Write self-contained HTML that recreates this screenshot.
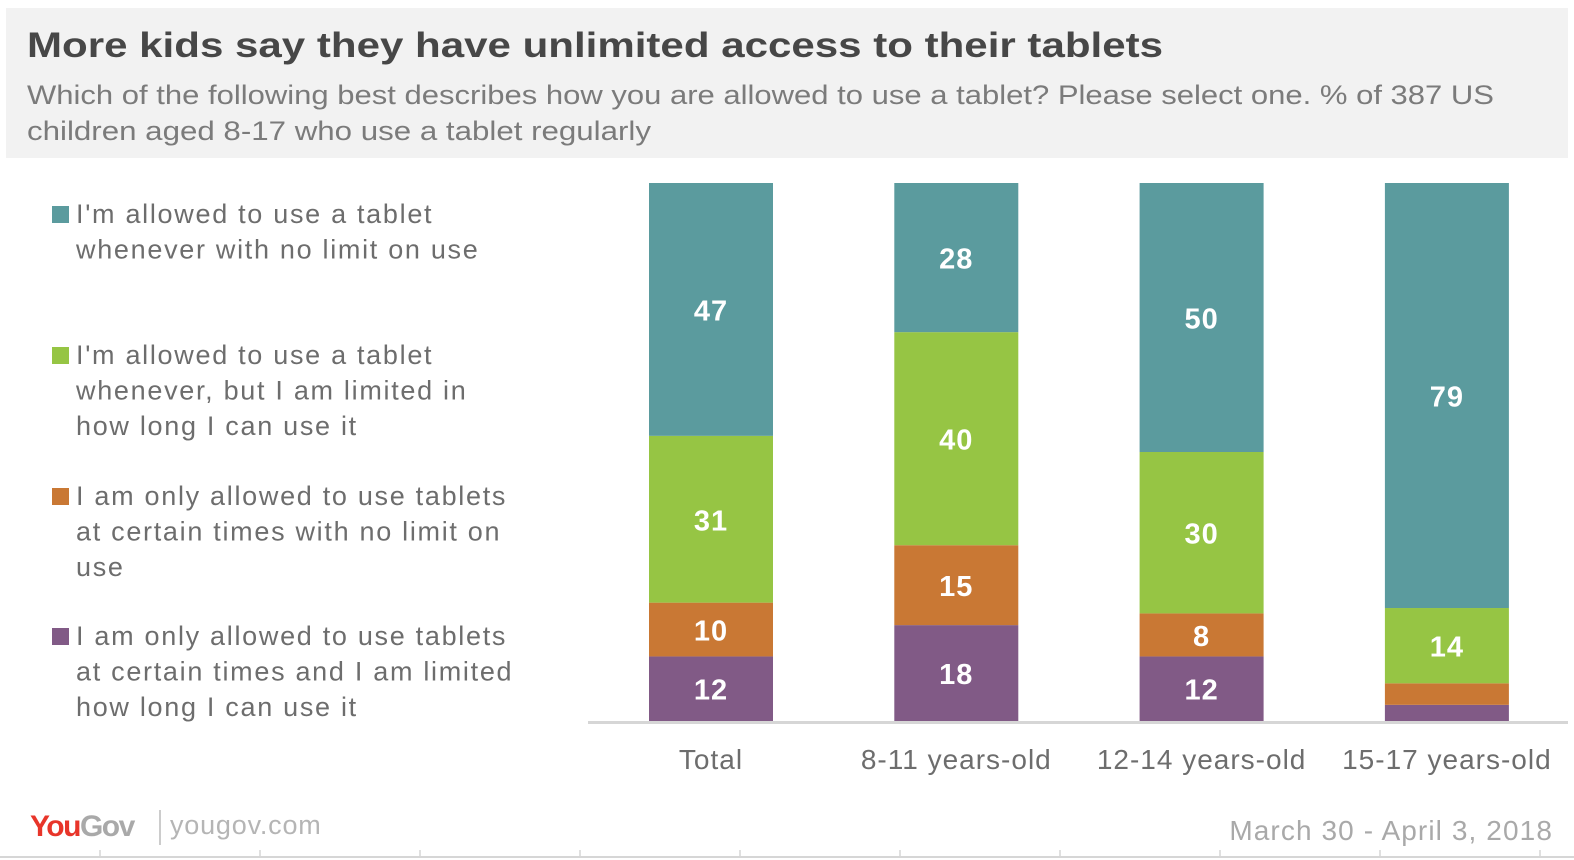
<!DOCTYPE html>
<html><head><meta charset="utf-8"><style>
html,body{margin:0;padding:0;background:#fff;}
svg{display:block;font-family:"Liberation Sans",sans-serif;}
</style></head><body>
<svg id="chart" width="1574" height="860" viewBox="0 0 1574 860" xmlns="http://www.w3.org/2000/svg">
<rect x="6" y="8" width="1562" height="150" fill="#f2f2f2"/>
<text x="27" y="57" font-size="35" font-weight="bold" fill="#474747" textLength="1136" lengthAdjust="spacingAndGlyphs">More kids say they have unlimited access to their tablets</text>
<text x="27" y="104" font-size="27" fill="#7b7b7b" textLength="1467" lengthAdjust="spacingAndGlyphs">Which of the following best describes how you are allowed to use a tablet? Please select one. % of 387 US</text>
<text x="27" y="140" font-size="27" fill="#7b7b7b" textLength="624" lengthAdjust="spacingAndGlyphs">children aged 8-17 who use a tablet regularly</text>
<g id="legend"></g>
<g id="bars"></g>
<line x1="588" y1="722.5" x2="1568" y2="722.5" stroke="#d6d6d6" stroke-width="3"/>
<g id="xlabels"></g>
<text x="30" y="836" font-size="30" font-weight="bold" letter-spacing="-1.5"><tspan fill="#e8352a">You</tspan><tspan fill="#a9a9a9">Gov</tspan></text>
<line x1="160" y1="810" x2="160" y2="845" stroke="#bbb" stroke-width="1.5"/>
<text x="170" y="834" font-size="27" fill="#b5b5b5" letter-spacing="0.8">yougov.com</text>
<text x="1553" y="840" font-size="28" fill="#a9a9a9" text-anchor="end" letter-spacing="1.1">March 30 - April 3, 2018</text>
<line x1="0" y1="857" x2="1574" y2="857" stroke="#d6d6d6" stroke-width="2"/>
<g id="bticks"></g>
</svg>
<script>
const categories = ["Total", "8-11 years-old", "12-14 years-old", "15-17 years-old"];
const seriesNames = ["I'm allowed to use a tablet whenever with no limit on use","I'm allowed to use a tablet whenever, but I am limited in how long I can use it","I am only allowed to use tablets at certain times with no limit on use","I am only allowed to use tablets at certain times and I am limited how long I can use it"];
const unlimited = [47, 28, 50, 79];
const limitedDuration = [31, 40, 30, 14];
const certainTimesNoLimit = [10, 15, 8, 4];
const certainTimesLimited = [12, 18, 12, 3];
const colors = ["#5b9b9e", "#96c544", "#c97834", "#815a86"];
const legendLines = [["I'm allowed to use a tablet","whenever with no limit on use"],["I'm allowed to use a tablet","whenever, but I am limited in","how long I can use it"],["I am only allowed to use tablets","at certain times with no limit on","use"],["I am only allowed to use tablets","at certain times and I am limited","how long I can use it"]];
const NS = "http://www.w3.org/2000/svg";
const top0 = 183, base = 721, barW = 124;
const xCenter = i => 711 + i * 245.3;
function mk(tag, attrs, parent){const e=document.createElementNS(NS,tag);for(const k in attrs)e.setAttribute(k,attrs[k]);parent.appendChild(e);return e;}
const bars = document.getElementById('bars');
const stack = [certainTimesLimited, certainTimesNoLimit, limitedDuration, unlimited];
const stackColors = [colors[3], colors[2], colors[1], colors[0]];
const stackNames = ["certain-times-limited","certain-times-no-limit","limited-duration","unlimited"];
categories.forEach((c, i) => {
  const total = stack.reduce((a, s) => a + s[i], 0);
  const yScale = v => (base - top0) * v / total;
  let y = base;
  stack.forEach((s, j) => {
    const h = yScale(s[i]);
    y -= h;
    const r = mk('rect', {x: xCenter(i) - barW/2, y: y, width: barW, height: h, fill: stackColors[j]}, bars);
    
    
    if (s[i] >= 6) {
      const t = mk('text', {x: xCenter(i), y: y + h/2 + 11, 'font-size': 29, 'font-weight': 'bold', fill: '#fff', 'text-anchor': 'middle', 'letter-spacing': 1}, bars);
      
      
      t.textContent = s[i];
    }
  });
  const xl = mk('text', {x: xCenter(i), y: 769, 'font-size': 28, fill: '#6d6d6d', 'text-anchor': 'middle', 'letter-spacing': 1}, document.getElementById('xlabels'));
  
  
  xl.textContent = c;
});
const legend = document.getElementById('legend');
const legendTop = [223, 364, 505, 645];
legendLines.forEach((lines, i) => {
  const g = mk('g', {}, legend);
  
  
  mk('rect', {x: 52, y: legendTop[i] - 17, width: 17, height: 17, fill: colors[i]}, g);
  lines.forEach((ln, k) => {
    const t = mk('text', {x: 76, y: legendTop[i] + k * 35.5, 'font-size': 27, fill: '#6d6d6d', 'letter-spacing': 1.7}, g);
    
    
    t.textContent = ln;
  });
});
const bt = document.getElementById('bticks');
for (let x = 100; x < 1574; x += 160) {
  const l = mk('line', {x1: x, y1: 850, x2: x, y2: 857, stroke: '#d6d6d6', 'stroke-width': 1.5}, bt);
  
  
}
</script>
</body></html>
